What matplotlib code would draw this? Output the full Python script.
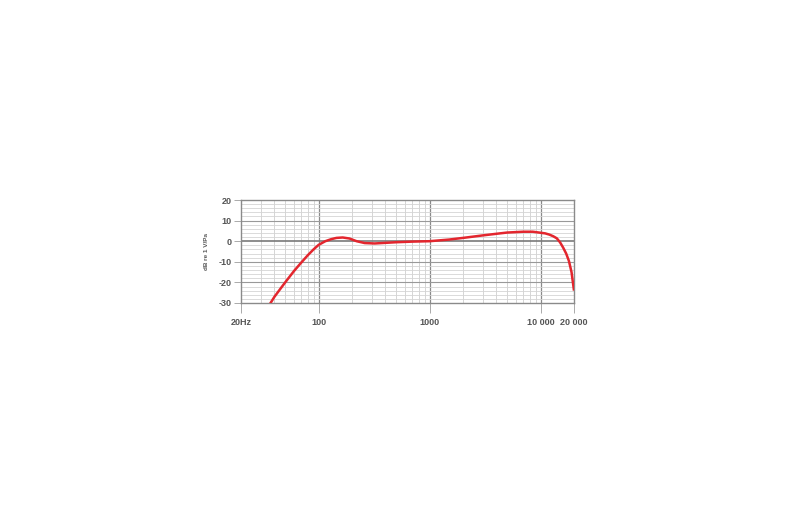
import numpy as np
import matplotlib
matplotlib.use("Agg")
import matplotlib.pyplot as plt
from matplotlib.ticker import FixedLocator, NullFormatter

plt.rcParams["font.family"] = ["Liberation Sans", "DejaVu Sans"]
plt.rcParams["axes.unicode_minus"] = False

# frequency response
freq = [35, 40, 45, 50, 60, 70, 80, 90, 100, 115, 130, 145, 165, 190, 220,
        260, 320, 400, 500, 700, 1000, 1500, 2000, 3000, 4000, 5000, 7000,
        8500, 10000, 11000, 12000, 13000, 14000, 15000, 16000, 17000, 18000,
        19000, 20000]
level = [-32, -27, -23.3, -20, -14.5, -10.3, -6.8, -4, -1.8, 0, 1.0, 1.6,
         1.8, 1.3, 0, -0.9, -1.1, -0.8, -0.5, -0.2, 0, 0.8, 1.6, 2.8, 3.6,
         4.2, 4.6, 4.6, 4.1, 3.8, 3.2, 2.4, 1.4, -0.6, -3.2, -6.0, -9.6,
         -15, -24]

x_ticks = [20, 100, 1000, 10000, 20000]
x_labels = ["20Hz", "100", "1000", "10 000", "20 000"]
y_ticks = [20, 10, 0, -10, -20, -30]

fig = plt.figure(figsize=(8, 5.2), dpi=100)
ax = fig.add_axes([241/800, 1 - 303/520, 333/800, 103/520])

ax.set_xscale("log")
ax.set_xlim(20, 20000)
ax.set_ylim(-30, 20)

# grid
minors = [m * 10**d for d in range(1, 5) for m in range(2, 10) if 20 < m * 10**d < 20000]
for f in minors:
    ax.axvline(f, color="#cfcfcf", lw=0.6, zorder=1)
for f in [100, 1000, 10000]:
    ax.axvline(f, color="#8a8a8a", lw=0.9, zorder=1)
for v in range(-28, 20, 2):
    if v % 10:
        ax.axhline(v, color="#d4d4d4", lw=0.6, zorder=1)
for v in [-20, -10, 10]:
    ax.axhline(v, color="#999999", lw=0.8, zorder=1)
ax.axhline(0, color="#7a7a7a", lw=1.2, zorder=1)

ax.plot(freq, level, color="#e3262e", lw=1.8, zorder=3, solid_capstyle="butt")

ax.xaxis.set_major_locator(FixedLocator(x_ticks))
ax.xaxis.set_minor_locator(FixedLocator([]))
ax.xaxis.set_minor_formatter(NullFormatter())
ax.set_xticklabels(x_labels)
ax.set_yticks(y_ticks)

for s in ax.spines.values():
    s.set_color("#8a8a8a")
    s.set_linewidth(1.0)

ax.tick_params(axis="x", direction="out", length=7, width=0.7, color="#aaaaaa",
               pad=4, labelsize=6.5, labelcolor="#555555")
ax.tick_params(axis="y", direction="out", length=5, width=0.7, color="#aaaaaa",
               pad=2, labelsize=6.5, labelcolor="#555555")
for lab in ax.get_xticklabels() + ax.get_yticklabels():
    lab.set_fontweight("bold")

ax.set_ylabel("dB re 1 V/Pa", fontsize=4.6, color="#555555", fontweight="bold")
ax.yaxis.set_label_coords(-0.095, 0.5)

fig.savefig("out.png", dpi=100)
